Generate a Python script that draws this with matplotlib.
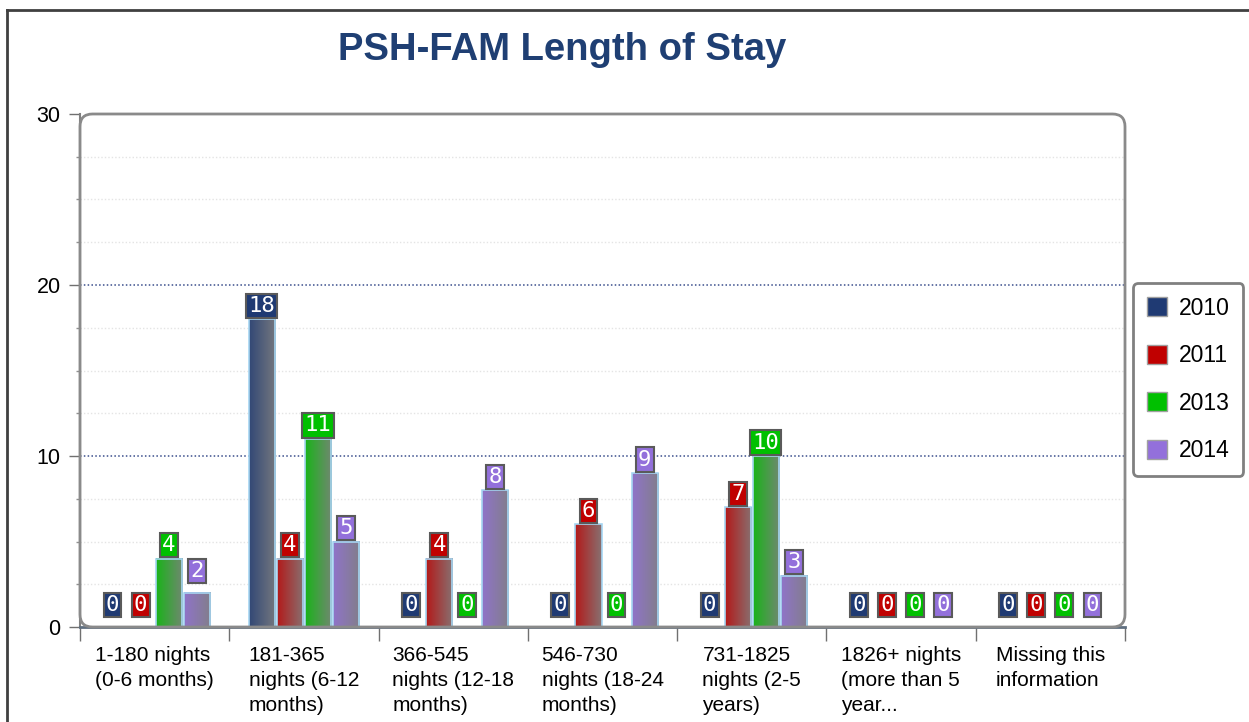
import numpy as np
import matplotlib
matplotlib.use('Agg')
import matplotlib.pyplot as plt
import matplotlib.colors as mcolors
from matplotlib.patches import FancyBboxPatch, Patch
from matplotlib.lines import Line2D
from matplotlib.ticker import MultipleLocator

plt.rcParams['font.family'] = ['Liberation Sans', 'DejaVu Sans']

title = 'PSH-FAM Length of Stay'
categories = ['1-180 nights\n(0-6 months)',
              '181-365\nnights (6-12\nmonths)',
              '366-545\nnights (12-18\nmonths)',
              '546-730\nnights (18-24\nmonths)',
              '731-1825\nnights (2-5\nyears)',
              '1826+ nights\n(more than 5\nyear...',
              'Missing this\ninformation']
years = ['2010', '2011', '2013', '2014']
colors_year = ['#1F3A73', '#C00000', '#00C000', '#9370DB']
v2010 = [0, 18, 0, 0, 0, 0, 0]
v2011 = [0, 4, 4, 6, 7, 0, 0]
v2013 = [4, 11, 0, 0, 10, 0, 0]
v2014 = [2, 5, 8, 9, 3, 0, 0]
series = [v2010, v2011, v2013, v2014]

W, H = 1249, 722
fig = plt.figure(figsize=(W / 100, H / 100), dpi=100)
ax = fig.add_axes([80 / W, 1 - 627 / H, (1125 - 80) / W, (627 - 114) / H])

gray = np.array(mcolors.to_rgb('#808080'))
step = 0.188
width = 0.175
x = np.arange(len(categories))

# bars with a left->right gradient towards gray
for j, (vals, col) in enumerate(zip(series, colors_year)):
    c = np.array(mcolors.to_rgb(col))
    left = 0.8 * c + 0.2 * gray
    right = 0.12 * c + 0.88 * gray
    grad = np.linspace(0, 1, 64)[:, None]
    img = (left[None, :] * (1 - grad) + right[None, :] * grad)[None, :, :]
    for i, v in enumerate(vals):
        xc = x[i] + (j - 1.5) * step
        if v > 0:
            ax.imshow(img, extent=(xc - width / 2, xc + width / 2, 0, v),
                      aspect='auto', interpolation='bilinear', zorder=2)
            ax.bar(xc, v, width=width, fill=False, edgecolor='#A6D6F2',
                   linewidth=1.2, zorder=3)
        base = v if v >= 3 else v + 0.5
        ax.annotate(str(v), xy=(xc, base), xytext=(0, 2.5),
                    textcoords='offset points', ha='center', va='bottom',
                    family='DejaVu Sans Mono', fontsize=16, color='white',
                    zorder=6,
                    bbox=dict(boxstyle='square,pad=0.1', facecolor=col,
                              edgecolor='#5A5A5A', linewidth=1.5))

ax.set_xlim(-0.5, len(categories) - 0.5)
ax.set_ylim(0, 30)

# grid
for yv in np.arange(2.5, 30, 2.5):
    if yv % 10 == 0:
        ax.axhline(yv, color='#3A4E8C', linestyle=(0, (1, 1.5)), linewidth=1.1, zorder=1)
    else:
        ax.axhline(yv, color='#E4E4E4', linestyle=(0, (1, 1.5)), linewidth=1, zorder=1)

# ticks
ax.yaxis.set_major_locator(MultipleLocator(10))
ax.yaxis.set_minor_locator(MultipleLocator(2.5))
ax.tick_params(axis='y', which='major', length=8, width=1, color='#707070',
               labelsize=15.5, pad=6)
ax.tick_params(axis='y', which='minor', length=3, width=1, color='#909090')
ax.set_xticks(np.arange(-0.5, len(categories), 1.0))
ax.set_xticklabels([])
ax.set_xticks(x, minor=True)
ax.set_xticklabels(categories, minor=True, fontsize=15, ha='center',
                   multialignment='left', va='top', linespacing=1.4)
ax.tick_params(axis='x', which='major', length=10, width=1, color='#707070')
ax.tick_params(axis='x', which='minor', length=0, pad=14)

for s in ['top', 'right']:
    ax.spines[s].set_visible(False)
ax.spines['left'].set_color('#808080')
ax.spines['left'].set_linewidth(1.5)
ax.spines['bottom'].set_color('#5F6F80')
ax.spines['bottom'].set_linewidth(2)

# rounded plot frame
frame = FancyBboxPatch((0, 0), 1, 1, boxstyle='round,pad=0,rounding_size=0.012',
                       mutation_aspect=2.04, transform=ax.transAxes,
                       fill=False, edgecolor='#8A8A8A', linewidth=2,
                       clip_on=False, zorder=5)
ax.add_patch(frame)

# legend
handles = [Patch(facecolor=c, edgecolor='#A0A0A0') for c in colors_year]
leg = fig.legend(handles, years, loc='upper left',
                 bbox_to_anchor=(1133 / W, 1 - 283 / H), borderaxespad=0,
                 fontsize=16.5, handlelength=0.9, handleheight=0.9,
                 labelspacing=1.07, borderpad=0.6, handletextpad=0.5,
                 fancybox=True, framealpha=1, edgecolor='#808080')
leg.get_frame().set_linewidth(2)

fig.text(562 / W, 1 - 50 / H, title, ha='center', va='center',
         fontsize=27.5, fontweight='bold', color='#1F3F73')

# outer border (top and left)
fig.add_artist(Line2D([7 / W, 1], [1 - 10 / H, 1 - 10 / H], color='#404040', linewidth=2))
fig.add_artist(Line2D([7 / W, 7 / W], [0, 1 - 10 / H], color='#404040', linewidth=2))

fig.savefig('out.png', dpi=100)
